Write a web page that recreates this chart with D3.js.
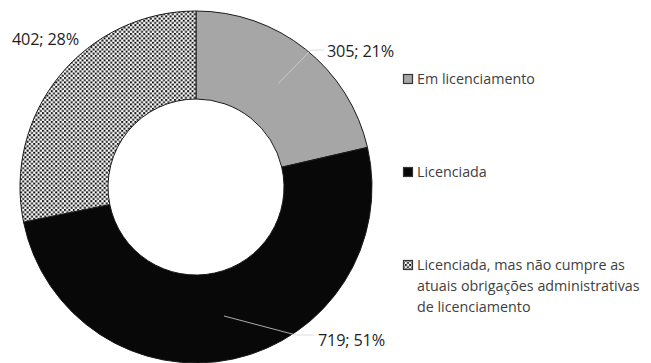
<!DOCTYPE html>
<html>
<head>
<meta charset="utf-8">
<script src="https://cdn.jsdelivr.net/npm/d3@7"></script>
<style>
  html, body { margin: 0; padding: 0; background: #fff; }
  svg { display: block; font-family: "Open Sans", "Noto Sans", sans-serif; }
</style>
</head>
<body>
<svg id="chart" width="651" height="363"></svg>
<script>
// Situação de licenciamento
const categories = ["Em licenciamento", "Licenciada", "Licenciada, mas não cumpre as atuais obrigações administrativas de licenciamento"];
const values = [305, 719, 402];
const percents = [21, 51, 28];
const legendLines = [
  ["Em licenciamento"],
  ["Licenciada"],
  ["Licenciada, mas não cumpre as", "atuais obrigações administrativas", "de licenciamento"]
];

const svg = d3.select("#chart");
const defs = svg.append("defs");

// dotted fill used for the third slice
const pat = defs.append("pattern")
  .attr("id", "dots")
  .attr("patternUnits", "userSpaceOnUse")
  .attr("width", 4.4).attr("height", 4.4);
pat.append("rect").attr("width", 4.4).attr("height", 4.4).attr("fill", "#fff");
pat.append("rect").attr("x", 0).attr("y", 0).attr("width", 2).attr("height", 2).attr("fill", "#111");
pat.append("rect").attr("x", 2.2).attr("y", 2.2).attr("width", 2).attr("height", 2).attr("fill", "#111");

const fills = ["#a6a6a6", "#080808", "url(#dots)"];

const cx = 196, cy = 187, outerR = 176, innerR = 88;

const pie = d3.pie().sort(null).value(d => d)(values);
const arc = d3.arc().innerRadius(innerR).outerRadius(outerR);
const mid = d3.arc().innerRadius((innerR + outerR) / 2).outerRadius((innerR + outerR) / 2);

const g = svg.append("g").attr("transform", `translate(${cx},${cy})`);

g.selectAll("path.slice")
  .data(pie)
  .join("path")
  .attr("class", "slice")
  .attr("d", arc)
  .attr("fill", (d, i) => fills[i])
  .attr("stroke", "#1a1a1a")
  .attr("stroke-width", 1);

// data labels and their leader lines
const labelSpots = [
  { x: 327, y: 57, line: [[311, 50], [324, 50]] },
  { x: 318, y: 346, line: [[296, 335], [314, 335]] },
  { x: 12, y: 45, line: null }
];

pie.forEach((d, i) => {
  const s = labelSpots[i];
  if (s.line) {
    const c = mid.centroid(d);
    const pts = [[cx + c[0], cy + c[1]]].concat(s.line);
    svg.append("path")
      .attr("d", d3.line()(pts))
      .attr("fill", "none")
      .attr("stroke", "#d4d4d4")
      .attr("stroke-width", 0.8);
  }
  svg.append("text")
    .attr("x", s.x).attr("y", s.y)
    .attr("font-size", 16.3)
    .attr("letter-spacing", -0.2)
    .attr("fill", "#1f1f1f")
    .text(`${values[i]}; ${percents[i]}%`);
});

// legend
const legendTop = [84, 177, 270];
const lg = svg.append("g");
categories.forEach((cat, i) => {
  const y = legendTop[i];
  lg.append("rect")
    .attr("x", 403.5).attr("y", y - 9.5)
    .attr("width", 9).attr("height", 9)
    .attr("fill", fills[i])
    .attr("stroke", "#333")
    .attr("stroke-width", 1.2);
  const t = lg.append("text")
    .attr("x", 417).attr("y", y)
    .attr("font-size", 14.3)
    .attr("fill", "#404040");
  legendLines[i].forEach((ln, k) => {
    t.append("tspan").attr("x", 417).attr("y", y + k * 21).text(ln);
  });
});
</script>
</body>
</html>
